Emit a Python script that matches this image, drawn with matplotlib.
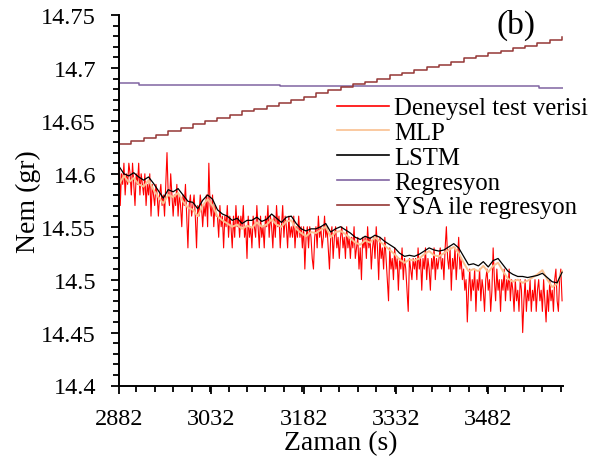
import numpy as np
import matplotlib
matplotlib.use("Agg")
import matplotlib.pyplot as plt
from matplotlib.ticker import MultipleLocator, FixedLocator

plt.rcParams['font.family'] = ['Liberation Serif', 'DejaVu Serif']

# ---------------- data ----------------
t_start, t_end = 2882, 3602
xtick_labels = [2882, 3032, 3182, 3332, 3482]
ytick_vals = [14.4, 14.45, 14.5, 14.55, 14.6, 14.65, 14.7, 14.75]

deneysel = [
    14.63, 14.57, 14.60, 14.59, 14.61, 14.58, 14.60, 14.59, 14.61, 14.60, 14.58, 14.61, 14.59, 14.57, 14.60, 14.59, 14.61, 14.58, 14.60, 14.59,
    14.58, 14.60, 14.57, 14.59, 14.58, 14.60, 14.56, 14.59, 14.58, 14.57, 14.59, 14.58, 14.56, 14.58, 14.59, 14.57, 14.58, 14.56, 14.59, 14.62,
    14.58, 14.57, 14.60, 14.58, 14.56, 14.58, 14.57, 14.59, 14.56, 14.58, 14.57, 14.55, 14.58, 14.57, 14.59, 14.56, 14.53, 14.57, 14.58, 14.56,
    14.57, 14.58, 14.56, 14.53, 14.57, 14.56, 14.58, 14.57, 14.55, 14.57, 14.56, 14.58, 14.55, 14.61, 14.57, 14.56, 14.58, 14.55, 14.57, 14.56,
    14.56, 14.54, 14.57, 14.55, 14.56, 14.53, 14.56, 14.55, 14.57, 14.54, 14.56, 14.55, 14.53, 14.56, 14.54, 14.57, 14.55, 14.56, 14.54, 14.56,
    14.55, 14.57, 14.54, 14.55, 14.52, 14.56, 14.54, 14.55, 14.53, 14.56, 14.55, 14.54, 14.57, 14.55, 14.53, 14.56, 14.54, 14.55, 14.53, 14.56,
    14.55, 14.57, 14.54, 14.56, 14.55, 14.53, 14.56, 14.54, 14.57, 14.55, 14.56, 14.53, 14.55, 14.57, 14.54, 14.56, 14.55, 14.53, 14.56, 14.54,
    14.55, 14.54, 14.56, 14.53, 14.55, 14.54, 14.56, 14.54, 14.55, 14.53, 14.55, 14.51, 14.54, 14.55, 14.53, 14.55, 14.54, 14.52, 14.51, 14.54,
    14.55, 14.53, 14.56, 14.54, 14.55, 14.53, 14.54, 14.56, 14.54, 14.55, 14.53, 14.51, 14.54, 14.55, 14.52, 14.54, 14.55, 14.53, 14.54, 14.52,
    14.54, 14.55, 14.53, 14.54, 14.52, 14.55, 14.53, 14.54, 14.52, 14.54, 14.53, 14.55, 14.52, 14.53, 14.54, 14.51, 14.53, 14.50, 14.54, 14.53,
    14.54, 14.52, 14.55, 14.53, 14.54, 14.51, 14.53, 14.54, 14.52, 14.55, 14.53, 14.50, 14.54, 14.52, 14.53, 14.51, 14.54, 14.52, 14.50, 14.48,
    14.53, 14.51, 14.52, 14.50, 14.53, 14.51, 14.52, 14.49, 14.52, 14.51, 14.53, 14.50, 14.52, 14.51, 14.49, 14.47, 14.52, 14.51, 14.50, 14.52,
    14.51, 14.52, 14.50, 14.53, 14.51, 14.52, 14.49, 14.52, 14.51, 14.53, 14.50, 14.52, 14.51, 14.49, 14.52, 14.51, 14.53, 14.50, 14.52, 14.51,
    14.52, 14.53, 14.51, 14.52, 14.50, 14.53, 14.55, 14.52, 14.51, 14.53, 14.49, 14.52, 14.51, 14.53, 14.50, 14.52, 14.54, 14.51, 14.52, 14.50,
    14.51, 14.49, 14.50, 14.46, 14.49, 14.51, 14.48, 14.50, 14.49, 14.51, 14.47, 14.50, 14.49, 14.51, 14.48, 14.50, 14.49, 14.47, 14.50, 14.51,
    14.49, 14.50, 14.47, 14.49, 14.53, 14.50, 14.48, 14.51, 14.49, 14.50, 14.47, 14.50, 14.49, 14.51, 14.48, 14.50, 14.49, 14.51, 14.48, 14.50,
    14.49, 14.47, 14.50, 14.48, 14.49, 14.47, 14.50, 14.49, 14.45, 14.48, 14.50, 14.47, 14.49, 14.48, 14.50, 14.47, 14.49, 14.48, 14.50, 14.47,
    14.49, 14.50, 14.48, 14.49, 14.47, 14.50, 14.48, 14.46, 14.49, 14.47, 14.50, 14.48, 14.49, 14.47, 14.50, 14.51, 14.48, 14.47, 14.50, 14.51,
    14.48,
]

lstm = [
    14.607, 14.600, 14.598, 14.601, 14.597, 14.594, 14.597, 14.591, 14.584, 14.577,
    14.585, 14.583, 14.586, 14.580, 14.574, 14.573, 14.567, 14.575, 14.580, 14.576,
    14.566, 14.562, 14.560, 14.556, 14.558, 14.553, 14.556, 14.556, 14.559, 14.555,
    14.557, 14.562, 14.558, 14.554, 14.559, 14.560, 14.553, 14.548, 14.546, 14.548,
    14.548, 14.550, 14.553, 14.545, 14.548, 14.550, 14.547, 14.544, 14.540, 14.538,
    14.541, 14.539, 14.542, 14.540, 14.536, 14.533, 14.530, 14.525, 14.522, 14.523,
    14.522, 14.524, 14.527, 14.530, 14.528, 14.527, 14.528, 14.531, 14.534, 14.530,
    14.522, 14.514, 14.515, 14.513, 14.517, 14.512, 14.518, 14.520, 14.514, 14.508,
    14.505, 14.503, 14.503, 14.502, 14.503, 14.504, 14.506, 14.502, 14.498, 14.497,
    14.507,
]

mlp = [
    14.590, 14.598, 14.592, 14.596, 14.590, 14.588, 14.594, 14.585, 14.578, 14.572,
    14.580, 14.578, 14.582, 14.574, 14.568, 14.566, 14.560, 14.570, 14.576, 14.570,
    14.560, 14.556, 14.553, 14.550, 14.552, 14.548, 14.551, 14.549, 14.554, 14.550,
    14.552, 14.557, 14.552, 14.550, 14.555, 14.556, 14.548, 14.544, 14.541, 14.545,
    14.544, 14.547, 14.550, 14.540, 14.545, 14.546, 14.543, 14.539, 14.535, 14.533,
    14.537, 14.535, 14.540, 14.536, 14.532, 14.528, 14.524, 14.519, 14.516, 14.519,
    14.518, 14.520, 14.524, 14.527, 14.523, 14.522, 14.525, 14.528, 14.531, 14.525,
    14.516, 14.508, 14.510, 14.508, 14.513, 14.507, 14.513, 14.516, 14.508, 14.501,
    14.498, 14.500, 14.497, 14.499, 14.502, 14.505, 14.509, 14.500, 14.493, 14.496,
    14.508,
]

reg_t = [2882, 2914, 3144, 3565, 3604]
reg_v = [14.686, 14.684, 14.683, 14.681, 14.681]

ysa = [
    14.628, 14.631, 14.634, 14.637, 14.640, 14.643, 14.647, 14.650, 14.653, 14.656,
    14.659, 14.661, 14.664, 14.667, 14.670, 14.673, 14.676, 14.679, 14.682, 14.685,
    14.687, 14.690, 14.693, 14.695, 14.698, 14.701, 14.703, 14.706, 14.709, 14.711,
    14.714, 14.716, 14.719, 14.721, 14.724, 14.726, 14.729,
]

labels = ['Deneysel test verisi', 'MLP', 'LSTM', 'Regresyon', 'YSA ile regresyon']
colors = ['#FF0000', '#FAC090', '#000000', '#8064A2', '#953735']

# ---------------- plot ----------------
fig = plt.figure(figsize=(6.03, 4.64), dpi=100)
ax = fig.add_axes([119 / 603, 1 - 386.5 / 464, (563.3 - 119) / 603, (386.5 - 16) / 464])

t_red = np.linspace(t_start, t_end, len(deneysel))
t_lstm = np.linspace(t_start, t_end, len(lstm))
t_mlp = np.linspace(t_start, t_end, len(mlp))
t_ysa = np.linspace(t_start, t_end, len(ysa))

h1, = ax.plot(t_red, deneysel, color=colors[0], lw=0.8)
h2, = ax.plot(t_mlp, mlp, color=colors[1], lw=1.4)
h3, = ax.plot(t_lstm, lstm, color=colors[2], lw=0.9)
h4, = ax.plot(reg_t, reg_v, color=colors[3], lw=1.1, drawstyle='steps-post')
h5, = ax.plot(t_ysa, ysa, color=colors[4], lw=1.1, drawstyle='steps-post')

ax.set_xlim(t_start, 3604)
ax.set_ylim(14.4, 14.75)

ax.xaxis.set_major_locator(FixedLocator(xtick_labels))
ax.xaxis.set_minor_locator(MultipleLocator(30))
ax.set_xticklabels([str(v) for v in xtick_labels])
ax.yaxis.set_major_locator(FixedLocator(ytick_vals))
ax.yaxis.set_minor_locator(MultipleLocator(0.01))
ax.set_yticklabels(['14.4', '14.45', '14.5', '14.55', '14.6', '14.65', '14.7', '14.75'])

for s in ['top', 'right']:
    ax.spines[s].set_visible(False)
for s in ['left', 'bottom']:
    ax.spines[s].set_linewidth(1.4)

ax.tick_params(axis='both', which='major', direction='out', length=6, width=1.3,
               labelsize=17.5, pad=10.5)
ax.tick_params(axis='both', which='minor', direction='out', length=4, width=1.3)

ax.set_xlabel('Zaman (s)', fontsize=20, labelpad=0.5)
ax.set_ylabel('Nem (gr)', fontsize=20, labelpad=0)

ax.text(0.893, 0.976, '(b)', transform=ax.transAxes, fontsize=24,
        ha='center', va='center')

leg = fig.legend([h1, h2, h3, h4, h5], labels, loc='upper left',
                 bbox_to_anchor=(337 / 603, 1 - 98 / 464), frameon=False,
                 fontsize=17.8, borderpad=0, borderaxespad=0, handlelength=2.1,
                 handletextpad=0.2, labelspacing=0.1)
for ln in leg.get_lines():
    ln.set_linewidth(1.2)

fig.savefig('out.png', dpi=100)
